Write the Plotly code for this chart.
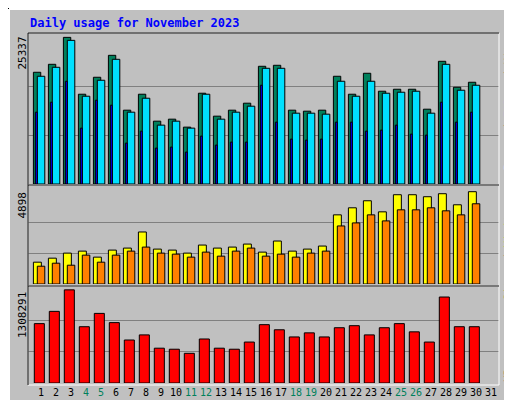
import plotly.graph_objects as go

days = list(range(1, 31))
hits_top = [64,56,29,86,69,47,102,86,113,111,119,85,108,102,95,58,57,102,103,102,68,86,65,83,81,81,101,53,79,74]
files_top = [68,59,32,88,72,51,104,90,117,113,120,86,111,104,98,60,60,105,105,106,73,88,73,85,84,83,105,56,82,77]
pages_top = [104,94,73,120,92,97,135,123,140,139,144,128,137,134,134,77,114,131,132,131,114,114,123,122,117,126,127,94,114,104]
hits = [round((176 - t) * 172.4) for t in hits_top]
files = [round((176 - t) * 172.4) for t in files_top]
pages = [round((176 - t) * 172.4) for t in pages_top]
visits_z = [238,226,211,205,223,202,196,148,199,202,211,187,196,193,184,208,175,205,199,190,97,76,55,88,37,37,43,34,67,28]
sites_z = [250,241,247,217,238,217,205,193,211,214,223,208,220,205,196,220,214,223,211,205,130,121,97,115,82,82,76,85,97,64]
visits = [round((303 - z) * 17.81) for z in visits_z]
sites = [round((303 - z) * 17.81) for z in sites_z]
kb_z = [427,391,328,436,397,424,475,460,499,502,514,472,499,502,481,430,445,466,454,466,439,433,460,439,427,451,481,349,436,436]
kbytes = [round((601 - z) * 4792.3) for z in kb_z]
max_hits, max_visits, max_kb = 25337, 4898, 1308291
weekend = {4, 5, 11, 12, 18, 19, 25, 26}
tick_days = list(range(1, 32))
tick_text = [f"<span style='color:#00805C'>{d}</span>" if d in weekend else str(d) for d in tick_days]

BG = "#C0C0C0"
W, H = 512, 400
def py(p): return 1 - p / H
def px(p): return p / W

fig = go.Figure()
line = dict(color="black", width=1)
fig.add_bar(x=days, y=hits, offset=-0.51, width=0.49, marker=dict(color="#00805C", line=line), xaxis="x", yaxis="y")
fig.add_bar(x=days, y=files, offset=-0.25, width=0.5, marker=dict(color="#00E0FF", line=line), xaxis="x", yaxis="y")
fig.add_bar(x=days, y=pages, offset=-0.38, width=0.13, marker=dict(color="#0000FF", line=line), xaxis="x", yaxis="y")
fig.add_bar(x=days, y=visits, offset=-0.51, width=0.53, marker=dict(color="#FFFF00", line=line), xaxis="x2", yaxis="y2")
fig.add_bar(x=days, y=sites, offset=-0.25, width=0.5, marker=dict(color="#FF8000", line=line), xaxis="x2", yaxis="y2")
fig.add_bar(x=days, y=kbytes, offset=-0.45, width=0.67, marker=dict(color="#FF0000", line=line), xaxis="x3", yaxis="y3")

xr = [0.13, 31.53]
xd = [px(20), px(491)]
common_x = dict(range=xr, domain=xd, showgrid=False, zeroline=False, fixedrange=True)
fig.update_layout(
    width=W, height=H, margin=dict(l=0, r=0, t=0, b=0),
    paper_bgcolor=BG, plot_bgcolor=BG, barmode="overlay", showlegend=False,
    font=dict(family="DejaVu Sans Mono", size=11, color="black"),
    xaxis=dict(**common_x, showticklabels=False, anchor="y"),
    xaxis2=dict(**common_x, showticklabels=False, anchor="y2"),
    xaxis3=dict(**common_x, anchor="y3", tickmode="array", tickvals=tick_days, ticktext=tick_text,
                ticks="", tickangle=0, ticklabelstandoff=2,
                tickfont=dict(size=10, family="DejaVu Sans Mono", color="black")),
    yaxis=dict(domain=[py(176), py(25)], range=[0, max_hits * 1.03], tickvals=[max_hits / 3, 2 * max_hits / 3],
               showticklabels=False, gridcolor="#808080", zeroline=False, anchor="x"),
    yaxis2=dict(domain=[py(276), py(180)], range=[0, max_visits * 1.04], tickvals=[max_visits / 3, 2 * max_visits / 3],
                showticklabels=False, gridcolor="#808080", zeroline=False, anchor="x2"),
    yaxis3=dict(domain=[py(375), py(280)], range=[0, max_kb * 1.02], tickvals=[max_kb / 3, 2 * max_kb / 3],
                showticklabels=False, gridcolor="#808080", zeroline=False, anchor="x3"),
)

shapes = [
    dict(type="rect", xref="paper", yref="paper", x0=0, x1=1, y0=0, y1=1, line=dict(color="black", width=2), layer="below"),
    dict(type="rect", xref="paper", yref="paper", x0=px(505), x1=1, y0=0, y1=py(8), fillcolor="#808080", line=dict(width=0)),
    dict(type="rect", xref="paper", yref="paper", x0=px(8), x1=1, y0=0, y1=py(393), fillcolor="#808080", line=dict(width=0)),
    dict(type="line", xref="paper", yref="paper", x0=px(1), x1=px(505), y0=py(1), y1=py(1), line=dict(color="white", width=2)),
    dict(type="line", xref="paper", yref="paper", x0=px(1), x1=px(1), y0=py(1), y1=py(393), line=dict(color="white", width=2)),
]
for top, bot in [(25, 177), (177, 278), (278, 377)]:
    shapes.append(dict(type="rect", xref="paper", yref="paper", x0=px(20), x1=px(491), y0=py(bot), y1=py(top),
                       line=dict(color="white", width=1)))
    shapes.append(dict(type="line", xref="paper", yref="paper", x0=px(20), x1=px(491), y0=py(top), y1=py(top),
                       line=dict(color="black", width=1)))
    shapes.append(dict(type="line", xref="paper", yref="paper", x0=px(20), x1=px(20), y0=py(bot), y1=py(top),
                       line=dict(color="black", width=1)))
fig.update_layout(shapes=shapes)

ann = [
    dict(text="<b>Daily usage for November 2023</b>", x=px(20), y=py(15), xanchor="left", yanchor="middle",
         font=dict(color="#0000FF", size=12, family="DejaVu Sans Mono")),
    dict(text=str(max_hits), x=px(14), y=py(27), textangle=-90, xanchor="center", yanchor="top"),
    dict(text=str(max_visits), x=px(14), y=py(182), textangle=-90, xanchor="center", yanchor="top"),
    dict(text=str(max_kb), x=px(14), y=py(282), textangle=-90, xanchor="center", yanchor="top"),
    dict(text="<span style='color:#00E0FF'>Pages</span> / <span style='color:#00A0D0'>Files</span> / <span style='color:#00805C'>Hits</span>",
         x=px(500), y=py(28), textangle=-90, xanchor="center", yanchor="top", font=dict(color="black", size=11)),
    dict(text="<span style='color:#FF8000'>Sites</span> / <span style='color:#FFFF00'>Visits</span>",
         x=px(500), y=py(198), textangle=-90, xanchor="center", yanchor="top", font=dict(color="black", size=11)),
    dict(text="KBytes", x=px(500), y=py(376), textangle=-90, xanchor="center", yanchor="bottom",
         font=dict(color="#FF0000", size=11)),
]
for a in ann:
    a.update(xref="paper", yref="paper", showarrow=False)
fig.update_layout(annotations=ann)
fig.write_html("out.html")
